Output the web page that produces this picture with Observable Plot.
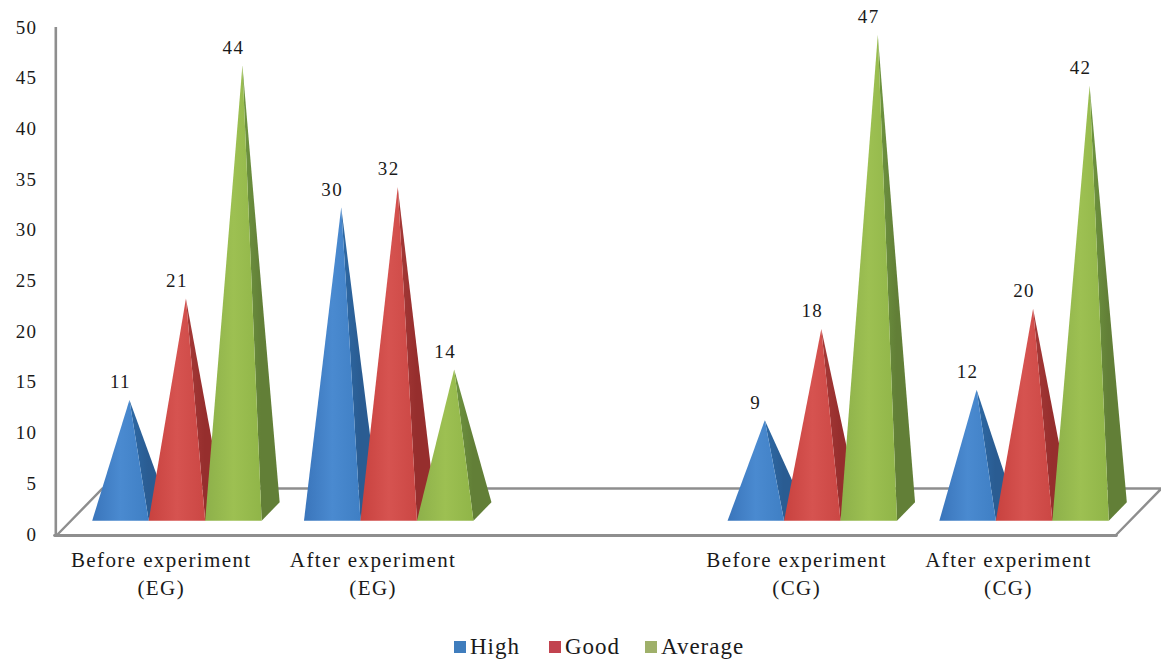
<!DOCTYPE html>
<html>
<head>
<meta charset="utf-8">
<style>
  html, body { margin: 0; padding: 0; background: #fff; width: 1161px; height: 661px; overflow: hidden; }
  #chart svg { display: block; }
  #legend { position: relative; height: 41px; font-family: "Liberation Serif", serif; font-size: 23px; letter-spacing: 1px; color: #1a1a1a; }
  #legend span { position: absolute; top: 12px; line-height: 30px; }
  #legend i { position: absolute; top: 21px; width: 12px; height: 12px; display: block; }
</style>
<script src="https://cdn.jsdelivr.net/npm/d3@7"></script>
<script src="https://cdn.jsdelivr.net/npm/@observablehq/plot@0.6"></script>
</head>
<body>
<div id="chart"></div>
<div id="legend"></div>
<script>
const categories = ["Before experiment\n(EG)", "After experiment\n(EG)", "Before experiment\n(CG)", "After experiment\n(CG)"];
const slots = [0, 1, 3, 4];          // category slot on the axis (slot 2 is left empty)
const high = [11, 30, 9, 12];
const good = [21, 32, 18, 20];
const average = [44, 14, 47, 42];
const yTicks = [0, 5, 10, 15, 20, 25, 30, 35, 40, 45, 50];
const seriesNames = ["High", "Good", "Average"];
const seriesValues = [high, good, average];
const legendColors = ["#3f7dbd", "#c2434f", "#9fb06a"];

// Oblique projection of the 3-D floor: depth 1 moves this far in x (slots) and y (value units)
const depthX = 0.2127, depthY = 4.54, slotCount = 5;
const gap = 0.1, pyramidW = 0.2667, depthFront = 0.3, depthBack = 0.7, depthApex = 0.5;
const font = '"Liberation Serif", serif';
const gray = "#8e8e8e";

const px = (x0, d) => x0 + d * depthX;
const py = (v, d) => v + d * depthY;
const pt = (x, y) => ({x, y});

const marks = [];

// floor, back and sides
marks.push(Plot.line([pt(0, 0), pt(depthX, depthY), pt(slotCount + depthX, depthY), pt(slotCount, 0)],
  {x: "x", y: "y", stroke: gray, strokeWidth: 2.4, curve: "linear"}));

// pyramids
seriesValues.forEach((vals, s) => {
  vals.forEach((v, c) => {
    const left = slots[c] + gap + s * pyramidW, right = left + pyramidW, mid = left + pyramidW / 2;
    const apex = pt(px(mid, depthApex), py(v, depthApex));
    const fl = pt(px(left, depthFront), py(0, depthFront));
    const fr = pt(px(right, depthFront), py(0, depthFront));
    const br = pt(px(right, depthBack), py(0, depthBack));
    marks.push(Plot.line([apex, fr, br], {x: "x", y: "y", stroke: "none", fill: `url(#side${s})`, curve: "linear"}));
    marks.push(Plot.line([fl, apex, fr], {x: "x", y: "y", stroke: "none", fill: `url(#front${s})`, curve: "linear"}));
  });
});

// axis lines in front
marks.push(Plot.ruleX([-0.008], {y1: 0, y2: 50, stroke: gray, strokeWidth: 2.6}));
marks.push(Plot.line([pt(-0.014, -0.1), pt(slotCount, -0.1)], {x: "x", y: "y", stroke: gray, strokeWidth: 2.8, curve: "linear"}));

// value labels
const labelRows = seriesValues.flatMap((vals, s) => vals.map((v, c) => ({
  x: px(slots[c] + gap + (s + 0.5) * pyramidW, depthFront),
  y: py(v, depthApex) + 1.75,
  label: String(v)
})));
marks.push(Plot.text(labelRows, {x: "x", y: "y", text: "label", fontSize: 19, fill: "#1a1a1a", fontFamily: font}));

// category labels
marks.push(Plot.text(categories.map((t, c) => ({x: slots[c] + 0.49, t})), {
  x: "x", frameAnchor: "bottom", text: "t", dy: 13, fontSize: 21, fill: "#1a1a1a", fontFamily: font,
  lineHeight: 1.33, lineAnchor: "top", textAnchor: "middle"
}));

marks.push(Plot.axisY({ticks: yTicks, tickSize: 0, tickPadding: 0, anchor: "left", dx: -20, fontSize: 19, fill: "#1a1a1a", fontFamily: font, tickFormat: d => String(d), label: null}));

const plot = Plot.plot({
  width: 1161,
  height: 620,
  marginLeft: 57,
  marginRight: 0,
  marginTop: 27,
  marginBottom: 86,
  style: {background: "#fff", fontFamily: font, letterSpacing: "1.4px", overflow: "visible"},
  x: {domain: [0, slotCount + depthX], axis: null},
  y: {domain: [0, 50], axis: null},
  marks
});

// face shading
const svgNS = "http://www.w3.org/2000/svg";
const frontShades = [["#3a75bb", "#4a8ad0", "#3f7fc4"], ["#c8423f", "#d65350", "#cb4744"], ["#8db04a", "#9dc052", "#90b548"]];
const sideShades = [["#2e6aa6", "#2a5c92", "#2a5c92"], ["#a63a38", "#962e2d", "#962e2d"], ["#6f9640", "#627f37", "#627f37"]];
const defs = document.createElementNS(svgNS, "defs");
const grad = (id, stops) => {
  const g = document.createElementNS(svgNS, "linearGradient");
  g.setAttribute("id", id);
  stops.forEach((c, i) => {
    const st = document.createElementNS(svgNS, "stop");
    st.setAttribute("offset", `${i * 50}%`);
    st.setAttribute("stop-color", c);
    g.appendChild(st);
  });
  defs.appendChild(g);
};
frontShades.forEach((st, i) => grad(`front${i}`, st));
sideShades.forEach((st, i) => grad(`side${i}`, st));
plot.insertBefore(defs, plot.firstChild);
document.getElementById("chart").appendChild(plot);

// legend
const legend = document.getElementById("legend");
const swatchX = [454, 549, 645], labelX = [470, 565, 661];
seriesNames.forEach((name, i) => {
  const sw = document.createElement("i");
  sw.style.left = swatchX[i] + "px";
  sw.style.background = legendColors[i];
  legend.appendChild(sw);
  const sp = document.createElement("span");
  sp.style.left = labelX[i] + "px";
  sp.textContent = name;
  legend.appendChild(sp);
});
</script>
</body>
</html>
